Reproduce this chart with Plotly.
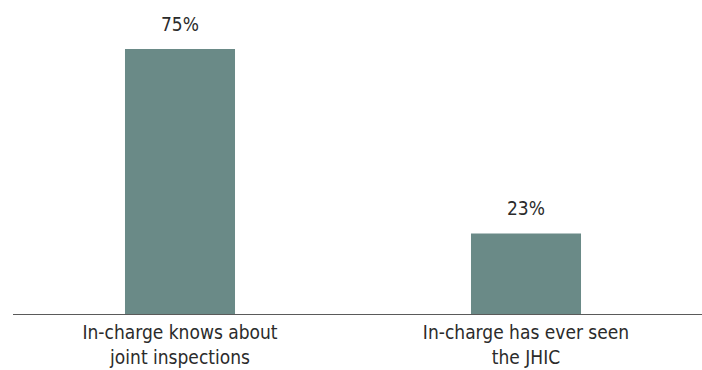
import plotly.graph_objects as go

categories = ["In-charge knows about<br>joint inspections", "In-charge has ever seen<br>the JHIC"]
values = [75, 23]
value_labels = ["75%", "23%"]

FONT = "DejaVu Sans Condensed, Liberation Sans Narrow, Arial Narrow, sans-serif"
BAR_COLOR = "#6a8a87"
TEXT_COLOR = "#2b2b2b"

fig = go.Figure()
fig.add_trace(go.Bar(
    x=categories, y=values,
    marker=dict(color=BAR_COLOR, line=dict(width=0)),
    width=0.318,
    hoverinfo="skip",
))

for c, v, t in zip(categories, values, value_labels):
    fig.add_annotation(x=c, y=v, text=t, showarrow=False,
                       xanchor="center", yanchor="bottom", yshift=12,
                       font=dict(family=FONT, size=19, color=TEXT_COLOR))

fig.add_shape(type="line", xref="paper", yref="y",
              x0=(13 - 7) / 692, x1=1 + 3 / 692, y0=0, y1=0,
              line=dict(color="#5a5a5a", width=2))

fig.update_layout(
    width=702, height=370,
    margin=dict(l=7, r=3, t=14, b=55, autoexpand=False),
    paper_bgcolor="white", plot_bgcolor="white",
    showlegend=False,
    font=dict(family=FONT, size=19, color=TEXT_COLOR),
    bargap=0.68,
)
fig.update_xaxes(showline=False, showgrid=False, ticks="", zeroline=False,
                 ticklabelstandoff=4, automargin=False,
                 tickfont=dict(family=FONT, size=19, color=TEXT_COLOR))
fig.update_yaxes(range=[0, 84.86], visible=False, showgrid=False, zeroline=False,
                 automargin=False)

fig.write_html("out.html")
